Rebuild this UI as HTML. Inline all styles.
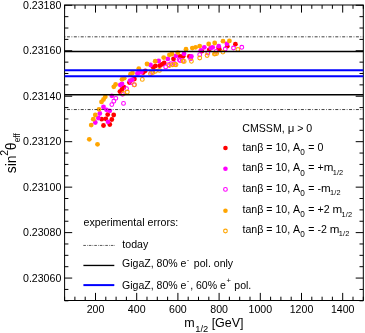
<!DOCTYPE html>
<html><head><meta charset="utf-8"><title>chart</title>
<style>html,body{margin:0;padding:0;background:#fff;overflow:hidden}svg{display:block;will-change:transform}</style></head>
<body>
<svg width="365" height="333" viewBox="0 0 365 333">
<rect width="365" height="333" fill="#fff"/>
<rect x="64.6" y="5.0" width="298.70000000000005" height="295.5" fill="none" stroke="#000" stroke-width="1"/>
<path d="M64.60 300.5v-3.8M64.60 5.0v3.8M74.90 300.5v-3.8M74.90 5.0v3.8M85.20 300.5v-3.8M85.20 5.0v3.8M95.50 300.5v-7.6M95.50 5.0v7.6M105.80 300.5v-3.8M105.80 5.0v3.8M116.10 300.5v-3.8M116.10 5.0v3.8M126.40 300.5v-3.8M126.40 5.0v3.8M136.70 300.5v-7.6M136.70 5.0v7.6M147.00 300.5v-3.8M147.00 5.0v3.8M157.30 300.5v-3.8M157.30 5.0v3.8M167.60 300.5v-3.8M167.60 5.0v3.8M177.90 300.5v-7.6M177.90 5.0v7.6M188.20 300.5v-3.8M188.20 5.0v3.8M198.50 300.5v-3.8M198.50 5.0v3.8M208.80 300.5v-3.8M208.80 5.0v3.8M219.10 300.5v-7.6M219.10 5.0v7.6M229.40 300.5v-3.8M229.40 5.0v3.8M239.70 300.5v-3.8M239.70 5.0v3.8M250.00 300.5v-3.8M250.00 5.0v3.8M260.30 300.5v-7.6M260.30 5.0v7.6M270.60 300.5v-3.8M270.60 5.0v3.8M280.90 300.5v-3.8M280.90 5.0v3.8M291.20 300.5v-3.8M291.20 5.0v3.8M301.50 300.5v-7.6M301.50 5.0v7.6M311.80 300.5v-3.8M311.80 5.0v3.8M322.10 300.5v-3.8M322.10 5.0v3.8M332.40 300.5v-3.8M332.40 5.0v3.8M342.70 300.5v-7.6M342.70 5.0v7.6M353.00 300.5v-3.8M353.00 5.0v3.8M363.30 300.5v-3.8M363.30 5.0v3.8M64.6 300.80h3.8M363.3 300.80h-3.8M64.6 289.43h3.8M363.3 289.43h-3.8M64.6 278.07h7.6M363.3 278.07h-7.6M64.6 266.70h3.8M363.3 266.70h-3.8M64.6 255.34h3.8M363.3 255.34h-3.8M64.6 243.97h3.8M363.3 243.97h-3.8M64.6 232.61h7.6M363.3 232.61h-7.6M64.6 221.24h3.8M363.3 221.24h-3.8M64.6 209.88h3.8M363.3 209.88h-3.8M64.6 198.51h3.8M363.3 198.51h-3.8M64.6 187.15h7.6M363.3 187.15h-7.6M64.6 175.78h3.8M363.3 175.78h-3.8M64.6 164.42h3.8M363.3 164.42h-3.8M64.6 153.05h3.8M363.3 153.05h-3.8M64.6 141.68h7.6M363.3 141.68h-7.6M64.6 130.32h3.8M363.3 130.32h-3.8M64.6 118.95h3.8M363.3 118.95h-3.8M64.6 107.59h3.8M363.3 107.59h-3.8M64.6 96.22h7.6M363.3 96.22h-7.6M64.6 84.86h3.8M363.3 84.86h-3.8M64.6 73.49h3.8M363.3 73.49h-3.8M64.6 62.13h3.8M363.3 62.13h-3.8M64.6 50.76h7.6M363.3 50.76h-7.6M64.6 39.40h3.8M363.3 39.40h-3.8M64.6 28.03h3.8M363.3 28.03h-3.8M64.6 16.67h3.8M363.3 16.67h-3.8M64.6 5.30h7.6M363.3 5.30h-7.6" stroke="#000" stroke-width="1" fill="none"/>
<circle cx="101.7" cy="119.2" r="2.4" fill="#ff0000"/>
<circle cx="103.5" cy="125.5" r="2.4" fill="#ff0000"/>
<circle cx="105.8" cy="118.8" r="2.4" fill="#ff0000"/>
<circle cx="107.7" cy="114.6" r="2.4" fill="#ff0000"/>
<circle cx="109.8" cy="124.5" r="2.4" fill="#ff0000"/>
<circle cx="111.8" cy="119.5" r="2.4" fill="#ff0000"/>
<circle cx="113.7" cy="115.0" r="2.4" fill="#ff0000"/>
<circle cx="119.9" cy="91.6" r="2.4" fill="#ff0000"/>
<circle cx="121.9" cy="89.4" r="2.4" fill="#ff0000"/>
<circle cx="123.9" cy="87.1" r="2.4" fill="#ff0000"/>
<circle cx="129.4" cy="82.6" r="2.4" fill="#ff0000"/>
<circle cx="134.4" cy="79.0" r="2.4" fill="#ff0000"/>
<circle cx="143.2" cy="72.5" r="2.4" fill="#ff0000"/>
<circle cx="145.3" cy="70.8" r="2.4" fill="#ff0000"/>
<circle cx="153.2" cy="67.3" r="2.4" fill="#ff0000"/>
<circle cx="155.4" cy="66.0" r="2.4" fill="#ff0000"/>
<circle cx="159.7" cy="65.7" r="2.4" fill="#ff0000"/>
<circle cx="161.9" cy="64.4" r="2.4" fill="#ff0000"/>
<circle cx="164.2" cy="63.0" r="2.4" fill="#ff0000"/>
<circle cx="173.5" cy="58.9" r="2.4" fill="#ff0000"/>
<circle cx="180.0" cy="56.3" r="2.4" fill="#ff0000"/>
<circle cx="183.2" cy="56.3" r="2.4" fill="#ff0000"/>
<circle cx="189.3" cy="56.4" r="2.4" fill="#ff0000"/>
<circle cx="201.8" cy="51.2" r="2.4" fill="#ff0000"/>
<circle cx="209.2" cy="49.8" r="2.4" fill="#ff0000"/>
<circle cx="218.6" cy="48.1" r="2.4" fill="#ff0000"/>
<circle cx="219.3" cy="49.2" r="2.4" fill="#ff0000"/>
<circle cx="227.3" cy="46.2" r="2.4" fill="#ff0000"/>
<circle cx="235.4" cy="44.2" r="2.4" fill="#ff0000"/>
<circle cx="95.3" cy="122.5" r="2.4" fill="#ff00ff"/>
<circle cx="98.3" cy="118.0" r="2.4" fill="#ff00ff"/>
<circle cx="99.8" cy="113.5" r="2.4" fill="#ff00ff"/>
<circle cx="103.5" cy="107.0" r="2.4" fill="#ff00ff"/>
<circle cx="106.5" cy="109.8" r="2.4" fill="#ff00ff"/>
<circle cx="109.8" cy="110.8" r="2.4" fill="#ff00ff"/>
<circle cx="108.0" cy="121.8" r="2.4" fill="#ff00ff"/>
<circle cx="111.8" cy="95.8" r="2.4" fill="#ff00ff"/>
<circle cx="120.3" cy="85.0" r="2.4" fill="#ff00ff"/>
<circle cx="122.0" cy="83.9" r="2.4" fill="#ff00ff"/>
<circle cx="130.1" cy="80.6" r="2.4" fill="#ff00ff"/>
<circle cx="132.3" cy="79.6" r="2.4" fill="#ff00ff"/>
<circle cx="138.8" cy="72.8" r="2.4" fill="#ff00ff"/>
<circle cx="141.4" cy="72.1" r="2.4" fill="#ff00ff"/>
<circle cx="150.5" cy="65.0" r="2.4" fill="#ff00ff"/>
<circle cx="158.7" cy="61.0" r="2.4" fill="#ff00ff"/>
<circle cx="167.8" cy="58.9" r="2.4" fill="#ff00ff"/>
<circle cx="176.0" cy="55.8" r="2.4" fill="#ff00ff"/>
<circle cx="184.0" cy="53.8" r="2.4" fill="#ff00ff"/>
<circle cx="191.4" cy="56.5" r="2.4" fill="#ff00ff"/>
<circle cx="200.8" cy="50.4" r="2.4" fill="#ff00ff"/>
<circle cx="204.3" cy="47.3" r="2.4" fill="#ff00ff"/>
<circle cx="212.7" cy="47.3" r="2.4" fill="#ff00ff"/>
<circle cx="210.8" cy="47.9" r="2.4" fill="#ff00ff"/>
<circle cx="218.7" cy="46.2" r="2.4" fill="#ff00ff"/>
<circle cx="226.9" cy="43.8" r="2.4" fill="#ff00ff"/>
<circle cx="137.4" cy="73.4" r="2.4" fill="#ff00ff"/>
<circle cx="170.9" cy="63.8" r="1.9" fill="none" stroke="#ff00ff" stroke-width="1.05"/>
<circle cx="174.3" cy="63.4" r="1.9" fill="none" stroke="#ff00ff" stroke-width="1.05"/>
<circle cx="151.6" cy="72.4" r="1.9" fill="none" stroke="#ff00ff" stroke-width="1.05"/>
<circle cx="165.7" cy="66.9" r="1.9" fill="none" stroke="#ff00ff" stroke-width="1.05"/>
<circle cx="111.8" cy="104.6" r="1.9" fill="none" stroke="#ff00ff" stroke-width="1.05"/>
<circle cx="113.8" cy="101.2" r="1.9" fill="none" stroke="#ff00ff" stroke-width="1.05"/>
<circle cx="115.8" cy="98.3" r="1.9" fill="none" stroke="#ff00ff" stroke-width="1.05"/>
<circle cx="123.5" cy="103.4" r="1.9" fill="none" stroke="#ff00ff" stroke-width="1.05"/>
<circle cx="122.5" cy="94.3" r="1.9" fill="none" stroke="#ff00ff" stroke-width="1.05"/>
<circle cx="126.5" cy="88.7" r="1.9" fill="none" stroke="#ff00ff" stroke-width="1.05"/>
<circle cx="131.3" cy="82.5" r="1.9" fill="none" stroke="#ff00ff" stroke-width="1.05"/>
<circle cx="134.2" cy="84.9" r="1.9" fill="none" stroke="#ff00ff" stroke-width="1.05"/>
<circle cx="168.6" cy="64.7" r="1.9" fill="none" stroke="#ff00ff" stroke-width="1.05"/>
<circle cx="180.1" cy="60.6" r="1.9" fill="none" stroke="#ff00ff" stroke-width="1.05"/>
<circle cx="182.6" cy="60.6" r="1.9" fill="none" stroke="#ff00ff" stroke-width="1.05"/>
<circle cx="179.1" cy="59.6" r="1.9" fill="none" stroke="#ff00ff" stroke-width="1.05"/>
<circle cx="190.6" cy="58.8" r="1.9" fill="none" stroke="#ff00ff" stroke-width="1.05"/>
<circle cx="199.7" cy="54.7" r="1.9" fill="none" stroke="#ff00ff" stroke-width="1.05"/>
<circle cx="207.9" cy="53.0" r="1.9" fill="none" stroke="#ff00ff" stroke-width="1.05"/>
<circle cx="216.1" cy="51.4" r="1.9" fill="none" stroke="#ff00ff" stroke-width="1.05"/>
<circle cx="225.3" cy="49.0" r="1.9" fill="none" stroke="#ff00ff" stroke-width="1.05"/>
<circle cx="233.5" cy="48.0" r="1.9" fill="none" stroke="#ff00ff" stroke-width="1.05"/>
<circle cx="241.8" cy="47.3" r="1.9" fill="none" stroke="#ff00ff" stroke-width="1.05"/>
<circle cx="89.3" cy="139.3" r="2.4" fill="#ffa500"/>
<circle cx="97.5" cy="144.3" r="2.4" fill="#ffa500"/>
<circle cx="91.2" cy="125.1" r="2.4" fill="#ffa500"/>
<circle cx="93.3" cy="119.2" r="2.4" fill="#ffa500"/>
<circle cx="95.3" cy="115.0" r="2.4" fill="#ffa500"/>
<circle cx="99.0" cy="109.3" r="2.4" fill="#ffa500"/>
<circle cx="101.5" cy="101.9" r="2.4" fill="#ffa500"/>
<circle cx="103.5" cy="99.5" r="2.4" fill="#ffa500"/>
<circle cx="105.3" cy="96.8" r="2.4" fill="#ffa500"/>
<circle cx="113.8" cy="86.8" r="2.4" fill="#ffa500"/>
<circle cx="115.6" cy="84.5" r="2.4" fill="#ffa500"/>
<circle cx="122.0" cy="79.3" r="2.4" fill="#ffa500"/>
<circle cx="124.2" cy="78.2" r="2.4" fill="#ffa500"/>
<circle cx="130.5" cy="74.2" r="2.4" fill="#ffa500"/>
<circle cx="132.5" cy="72.9" r="2.4" fill="#ffa500"/>
<circle cx="138.8" cy="68.6" r="2.4" fill="#ffa500"/>
<circle cx="147.0" cy="64.0" r="2.4" fill="#ffa500"/>
<circle cx="155.2" cy="61.2" r="2.4" fill="#ffa500"/>
<circle cx="163.7" cy="57.6" r="2.4" fill="#ffa500"/>
<circle cx="169.4" cy="54.8" r="2.4" fill="#ffa500"/>
<circle cx="171.9" cy="54.0" r="2.4" fill="#ffa500"/>
<circle cx="177.8" cy="52.6" r="2.4" fill="#ffa500"/>
<circle cx="186.0" cy="49.2" r="2.4" fill="#ffa500"/>
<circle cx="192.3" cy="48.1" r="2.4" fill="#ffa500"/>
<circle cx="195.6" cy="47.3" r="2.4" fill="#ffa500"/>
<circle cx="199.7" cy="46.1" r="2.4" fill="#ffa500"/>
<circle cx="208.7" cy="44.0" r="2.4" fill="#ffa500"/>
<circle cx="214.7" cy="43.0" r="2.4" fill="#ffa500"/>
<circle cx="223.0" cy="41.2" r="2.4" fill="#ffa500"/>
<circle cx="229.4" cy="40.9" r="2.4" fill="#ffa500"/>
<circle cx="123.5" cy="93.4" r="1.9" fill="none" stroke="#ffa500" stroke-width="1.05"/>
<circle cx="127.3" cy="92.0" r="1.9" fill="none" stroke="#ffa500" stroke-width="1.05"/>
<circle cx="134.5" cy="84.7" r="1.9" fill="none" stroke="#ffa500" stroke-width="1.05"/>
<circle cx="142.3" cy="79.4" r="1.9" fill="none" stroke="#ffa500" stroke-width="1.05"/>
<circle cx="150.5" cy="73.7" r="1.9" fill="none" stroke="#ffa500" stroke-width="1.05"/>
<circle cx="152.9" cy="72.5" r="1.9" fill="none" stroke="#ffa500" stroke-width="1.05"/>
<circle cx="155.4" cy="71.2" r="1.9" fill="none" stroke="#ffa500" stroke-width="1.05"/>
<circle cx="159.5" cy="70.4" r="1.9" fill="none" stroke="#ffa500" stroke-width="1.05"/>
<circle cx="169.4" cy="65.5" r="1.9" fill="none" stroke="#ffa500" stroke-width="1.05"/>
<circle cx="172.7" cy="64.7" r="1.9" fill="none" stroke="#ffa500" stroke-width="1.05"/>
<circle cx="176.0" cy="64.7" r="1.9" fill="none" stroke="#ffa500" stroke-width="1.05"/>
<circle cx="184.2" cy="61.4" r="1.9" fill="none" stroke="#ffa500" stroke-width="1.05"/>
<circle cx="175" cy="64.5" r="1.9" fill="none" stroke="#ffa500" stroke-width="1.05"/>
<circle cx="183.2" cy="61.3" r="1.9" fill="none" stroke="#ffa500" stroke-width="1.05"/>
<circle cx="191.4" cy="61.3" r="1.9" fill="none" stroke="#ffa500" stroke-width="1.05"/>
<circle cx="199.7" cy="58.0" r="1.9" fill="none" stroke="#ffa500" stroke-width="1.05"/>
<circle cx="207.1" cy="55.5" r="1.9" fill="none" stroke="#ffa500" stroke-width="1.05"/>
<circle cx="215.3" cy="53.8" r="1.9" fill="none" stroke="#ffa500" stroke-width="1.05"/>
<circle cx="222.9" cy="52.1" r="1.9" fill="none" stroke="#ffa500" stroke-width="1.05"/>
<circle cx="214.4" cy="54.1" r="1.9" fill="none" stroke="#ffa500" stroke-width="1.05"/>
<circle cx="216.6" cy="53.6" r="1.9" fill="none" stroke="#ffa500" stroke-width="1.05"/>
<circle cx="237.9" cy="49.5" r="1.9" fill="none" stroke="#ffa500" stroke-width="1.05"/>
<line x1="64.6" x2="363.3" y1="36.82" y2="36.82" stroke="#000" stroke-width="0.75" stroke-dasharray="3 1.55 0.78 1.55" stroke-dashoffset="4.52"/>
<line x1="64.6" x2="363.3" y1="109.56" y2="109.56" stroke="#000" stroke-width="0.75" stroke-dasharray="3 1.55 0.78 1.55" stroke-dashoffset="4.52"/>
<line x1="64.6" x2="363.3" y1="51.60" y2="51.60" stroke="#000" stroke-width="1.5"/>
<line x1="64.6" x2="363.3" y1="94.79" y2="94.79" stroke="#000" stroke-width="1.5"/>
<line x1="64.6" x2="363.3" y1="70.24" y2="70.24" stroke="#0000ff" stroke-width="2"/>
<line x1="64.6" x2="363.3" y1="76.15" y2="76.15" stroke="#0000ff" stroke-width="2"/>
<g font-family="Liberation Sans, sans-serif" font-size="10.6" fill="#000">
<text x="61.3" y="281.67" text-anchor="end">0.23060</text>
<text x="61.3" y="236.21" text-anchor="end">0.23080</text>
<text x="61.3" y="190.75" text-anchor="end">0.23100</text>
<text x="61.3" y="145.28" text-anchor="end">0.23120</text>
<text x="61.3" y="99.82" text-anchor="end">0.23140</text>
<text x="61.3" y="54.36" text-anchor="end">0.23160</text>
<text x="61.3" y="8.90" text-anchor="end">0.23180</text>
<text x="95.50" y="313.2" text-anchor="middle">200</text>
<text x="136.70" y="313.2" text-anchor="middle">400</text>
<text x="177.90" y="313.2" text-anchor="middle">600</text>
<text x="219.10" y="313.2" text-anchor="middle">800</text>
<text x="260.30" y="313.2" text-anchor="middle">1000</text>
<text x="301.50" y="313.2" text-anchor="middle">1200</text>
<text x="342.70" y="313.2" text-anchor="middle">1400</text>
</g>
<g font-family="Liberation Sans, sans-serif" font-size="12.5" fill="#000">
<text x="184.2" y="326.6">m<tspan font-size="9.3" dy="5" dx="0.6">1/2</tspan><tspan dy="-5"> [GeV]</tspan></text>
<text font-size="14" transform="translate(15.8,173.3) rotate(-90)">sin<tspan font-size="10.4" dy="-7.8" dx="-0.3">2</tspan><tspan dy="7.8" dx="-0.3">θ</tspan><tspan font-size="9.9" dy="4" dx="0.2" textLength="8.9" lengthAdjust="spacingAndGlyphs">eff</tspan></text>
</g>
<g font-family="Liberation Sans, sans-serif" font-size="10.6" fill="#000">
<text x="242.3" y="132">CMSSM, <tspan font-size="11.5">μ</tspan> &gt; 0</text>
<circle cx="225.45" cy="147.95000000000002" r="2.3" fill="#ff0000"/>
<text x="242.5" y="150.60">tanβ = 10, A<tspan font-size="8.2" dy="4.2" dx="0.2">0</tspan><tspan dy="-4.2" dx="0.5"> = 0</tspan></text>
<circle cx="225.45" cy="168.75" r="2.3" fill="#ff00ff"/>
<text x="242.5" y="171.40">tanβ = 10, A<tspan font-size="8.2" dy="4.2" dx="0.2">0</tspan><tspan dy="-4.2" dx="0.5"> = +<tspan font-size="11.6">m</tspan><tspan font-size="7.4" dy="3.7" dx="-0.7" letter-spacing="0.15">1/2</tspan></tspan></text>
<circle cx="225.45" cy="189.4" r="1.85" fill="none" stroke="#ff00ff" stroke-width="1.1"/>
<text x="242.5" y="191.60">tanβ = 10, A<tspan font-size="8.2" dy="4.2" dx="0.2">0</tspan><tspan dy="-4.2" dx="0.5"> = -<tspan font-size="11.6">m</tspan><tspan font-size="7.4" dy="3.7" dx="-0.7" letter-spacing="0.15">1/2</tspan></tspan></text>
<circle cx="225.45" cy="210.75" r="2.3" fill="#ffa500"/>
<text x="242.5" y="212.90">tanβ = 10, A<tspan font-size="8.2" dy="4.2" dx="0.2">0</tspan><tspan dy="-4.2" dx="0.5"> = +2 <tspan font-size="11.6">m</tspan><tspan font-size="7.4" dy="3.7" dx="-0.7" letter-spacing="0.15">1/2</tspan></tspan></text>
<circle cx="225.45" cy="231.0" r="1.85" fill="none" stroke="#ffa500" stroke-width="1.1"/>
<text x="242.5" y="232.70">tanβ = 10, A<tspan font-size="8.2" dy="4.2" dx="0.2">0</tspan><tspan dy="-4.2" dx="0.5"> = -2 <tspan font-size="11.6">m</tspan><tspan font-size="7.4" dy="3.7" dx="-0.7" letter-spacing="0.15">1/2</tspan></tspan></text>
<text x="83.6" y="226.3" font-size="10.65">experimental errors:</text>
<text x="122.3" y="247.7" font-size="10.6">today</text>
<text x="122" y="267.4" font-size="10.55">GigaZ, 80% e<tspan font-size="7.6" dy="-5.5" dx="0.3">-</tspan><tspan dy="5.5" dx="1.6"> pol. only</tspan></text>
<text x="122" y="288.5" font-size="10.55">GigaZ, 80% e<tspan font-size="7.6" dy="-5.5" dx="0.3">-</tspan><tspan dy="5.5" dx="0.8">, 60% e</tspan><tspan font-size="7.6" dy="-5.5" dx="0.5">+</tspan><tspan dy="5.5" dx="0.5"> pol.</tspan></text>
</g>
<line x1="83.3" x2="115" y1="245.45" y2="245.45" stroke="#000" stroke-width="0.65" stroke-dasharray="2.6 1.1 0.7 1.1"/>
<line x1="83.4" x2="114.3" y1="265.45" y2="265.45" stroke="#000" stroke-width="1.35"/>
<line x1="83.4" x2="114.3" y1="285.1" y2="285.1" stroke="#0000ff" stroke-width="2"/>
</svg>
</body></html>
